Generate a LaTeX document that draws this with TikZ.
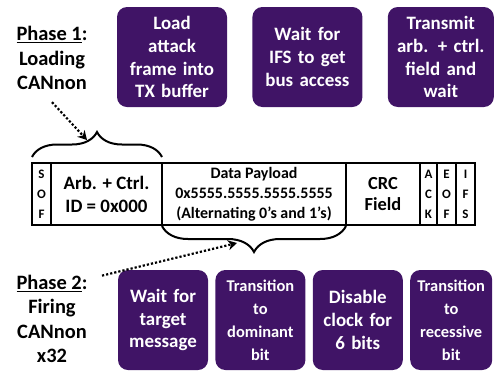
\documentclass[tikz,border=0pt]{standalone}
\usepackage{fontspec}
\setmainfont{Carlito}
\usetikzlibrary{arrows.meta, positioning, decorations.pathreplacing}
\definecolor{canpurple}{RGB}{64,20,102}

\begin{document}
\begin{tikzpicture}[
  x=1bp, y=-1bp,
  task/.style  = {rectangle, rounded corners=10bp, fill=canpurple, text=white,
                  minimum width=#1, minimum height=100bp, text width=#1-8bp,
                  inner sep=0pt, align=center,
                  font=\fontsize{19}{23}\selectfont\bfseries},
  field/.style = {rectangle, draw, line width=1.2bp, minimum width=#1,
                  minimum height=62bp, inner sep=0pt, outer sep=0pt,
                  align=center},
  phase/.style = {align=center, font=\fontsize{20.5}{24.5}\selectfont\bfseries},
  curly/.style = {decorate, decoration={brace, amplitude=#1}, line width=2bp},
  dotarr/.style = {-{Stealth[length=9bp, width=10bp]}, dotted, line width=2.2bp},
]
\useasboundingbox (0,0) rectangle (498,373);

% ── Phase 1: loading ─────────────────────────────────────────────────────────
\node[phase] (phaseone) at (52,58) {\underline{Phase 1}:\\Loading\\CANnon};

\node[task=110bp] (load) at (172,57) {Load\\attack\\frame into\\TX buffer};
\node[task=110bp, right=25bp of load] (busfree) {Wait for\\IFS to get\\bus access};
\node[task=106bp, right=25bp of busfree] (transmit) {Transmit\\arb. + ctrl.\\field and\\wait};

% ── CAN frame ────────────────────────────────────────────────────────────────
\node[field=19bp, font=\fontsize{13}{20}\selectfont\bfseries] (sof) at (41.5,194)
  {S\\O\\F};
\node[field=111bp, right=0pt of sof, font=\fontsize{19}{23}\selectfont\bfseries] (arb)
  {Arb. + Ctrl.\\ID = 0x000};
\node[field=184bp, right=0pt of arb, font=\fontsize{16}{20}\selectfont\bfseries] (data)
  {Data Payload\\0x5555.5555.5555.5555\\(Alternating 0’s and 1’s)};
\node[field=74bp, right=0pt of data, font=\fontsize{18.5}{22}\selectfont\bfseries] (crc)
  {CRC\\Field};
\node[field=17bp, right=0pt of crc, font=\fontsize{13}{20}\selectfont\bfseries] (ack)
  {A\\C\\K};
\node[field=19bp, right=0pt of ack, font=\fontsize{13}{20}\selectfont\bfseries] (eof)
  {E\\O\\F};
\node[field=19bp, right=0pt of eof, font=\fontsize{13}{20}\selectfont\bfseries] (ifs)
  {I\\F\\S};

% ── Braces over the fields ───────────────────────────────────────────────────
\draw[curly=25bp] ([yshift=6bp]sof.north west) -- ([yshift=6bp]arb.north east);
\draw[curly=26bp] ([yshift=-1bp]data.south east) -- ([yshift=-1bp]data.south west);

% ── Phase 2: firing ──────────────────────────────────────────────────────────
\node[phase] (phasetwo) at (52,319) {\underline{Phase 2}:\\Firing\\CANnon\\x32};

\node[task=90bp] (target) at (163,320) {Wait for\\target\\message};
\node[task=90bp, right=7bp of target, font=\fontsize{16.5}{23}\selectfont\bfseries] (dominant)
  {Transition\\to\\dominant\\bit};
\node[task=90bp, right=7bp of dominant] (clockoff) {Disable\\clock for\\6 bits};
\node[task=82bp, right=7bp of clockoff, font=\fontsize{16.5}{23}\selectfont\bfseries] (recessive)
  {Transition\\to\\recessive\\bit};

% ── Arrows to the braces ─────────────────────────────────────────────────────
\coordinate (aimone) at (87,140);
\coordinate (aimtwo) at (237,243);
\draw[dotarr] ([yshift=-9bp]phaseone.south) -- (aimone);
\draw[dotarr] ([xshift=11bp, yshift=-4bp]phasetwo.north east) -- (aimtwo);

\end{tikzpicture}
\end{document}
